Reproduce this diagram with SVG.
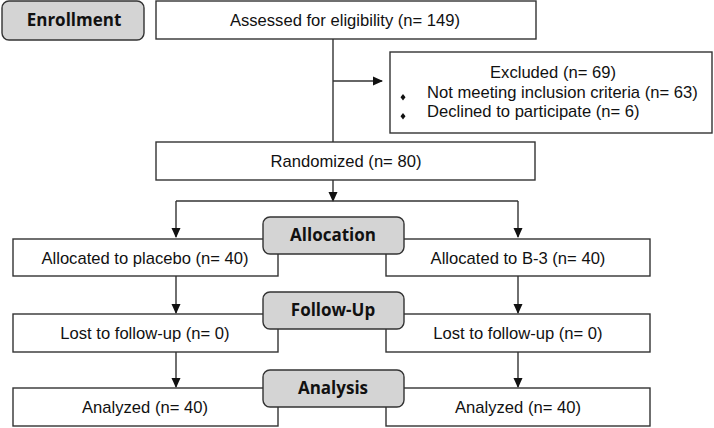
<svg xmlns="http://www.w3.org/2000/svg" width="714" height="428" viewBox="0 0 714 428">
<style>
.box{fill:#fff;stroke:#333;stroke-width:1.4}
.stage{fill:#d4d4d4;stroke:#333;stroke-width:1.4}
.t{font-family:"Liberation Sans",Arial,sans-serif;font-size:16.6px;fill:#111;text-anchor:middle}
.tl{font-family:"Liberation Sans",Arial,sans-serif;font-size:16.6px;fill:#111}
.s{font-family:"Open Sans","Noto Sans",sans-serif;font-size:17px;font-weight:bold;fill:#111;text-anchor:middle}
.c{fill:none;stroke:#333;stroke-width:1.4}
</style>
<defs>
<marker id="ah" markerWidth="10" markerHeight="10" refX="9" refY="5" orient="auto" markerUnits="userSpaceOnUse">
<path d="M0,0.5 L10,5 L0,9.5 z" fill="#111"/>
</marker>
</defs>
<g id="connectors">
<path class="c" d="M333,39 V142"/>
<path class="c" d="M333,81 H382" marker-end="url(#ah)"/>
<path class="c" d="M333,180 V201" marker-end="url(#ah)"/>
<path class="c" d="M176,201 H518"/>
<path class="c" d="M176,201 V237" marker-end="url(#ah)"/>
<path class="c" d="M518,201 V237" marker-end="url(#ah)"/>
<path class="c" d="M176,276 V313" marker-end="url(#ah)"/>
<path class="c" d="M518,276 V313" marker-end="url(#ah)"/>
<path class="c" d="M176,352 V387" marker-end="url(#ah)"/>
<path class="c" d="M518,352 V387" marker-end="url(#ah)"/>
</g>
<g id="assessed">
<rect class="box" x="156" y="1" width="380" height="38"/>
<text class="t" x="345" y="26">Assessed for eligibility (n= 149)</text>
</g>
<g id="excluded">
<rect class="box" x="390" y="52" width="322" height="81"/>
<text class="t" x="553" y="78">Excluded (n= 69)</text>
<path d="M403,94 l2.5,3.2 l-2.5,3.2 l-2.5,-3.2 z" fill="#111"/>
<text class="tl" x="427" y="98">Not meeting inclusion criteria (n= 63)</text>
<path d="M403,113 l2.5,3.2 l-2.5,3.2 l-2.5,-3.2 z" fill="#111"/>
<text class="tl" x="427" y="117">Declined to participate (n= 6)</text>
</g>
<g id="randomized">
<rect class="box" x="156" y="142" width="379" height="38"/>
<text class="t" x="346" y="167">Randomized (n= 80)</text>
</g>
<g id="alloc-placebo">
<rect class="box" x="13" y="239" width="265" height="37"/>
<text class="t" x="145" y="264">Allocated to placebo (n= 40)</text>
</g>
<g id="alloc-b3">
<rect class="box" x="386" y="239" width="264" height="37"/>
<text class="t" x="518" y="264">Allocated to B-3 (n= 40)</text>
</g>
<g id="lost-placebo">
<rect class="box" x="13" y="314" width="265" height="38"/>
<text class="t" x="145" y="339">Lost to follow-up (n= 0)</text>
</g>
<g id="lost-b3">
<rect class="box" x="386" y="314" width="264" height="38"/>
<text class="t" x="518" y="339">Lost to follow-up (n= 0)</text>
</g>
<g id="analyzed-placebo">
<rect class="box" x="13" y="388" width="265" height="38"/>
<text class="t" x="145" y="413">Analyzed (n= 40)</text>
</g>
<g id="analyzed-b3">
<rect class="box" x="386" y="388" width="264" height="38"/>
<text class="t" x="518" y="413">Analyzed (n= 40)</text>
</g>
<g id="enrollment">
<rect class="stage" x="2" y="1" width="142" height="39" rx="7"/>
<text class="s" x="74" y="26">Enrollment</text>
</g>
<g id="allocation">
<rect class="stage" x="263" y="217" width="141" height="37" rx="7"/>
<text class="s" x="333" y="241">Allocation</text>
</g>
<g id="follow-up">
<rect class="stage" x="263" y="292" width="141" height="37" rx="7"/>
<text class="s" x="333" y="316">Follow-Up</text>
</g>
<g id="analysis">
<rect class="stage" x="263" y="370" width="141" height="37" rx="7"/>
<text class="s" x="333" y="394">Analysis</text>
</g>
</svg>
